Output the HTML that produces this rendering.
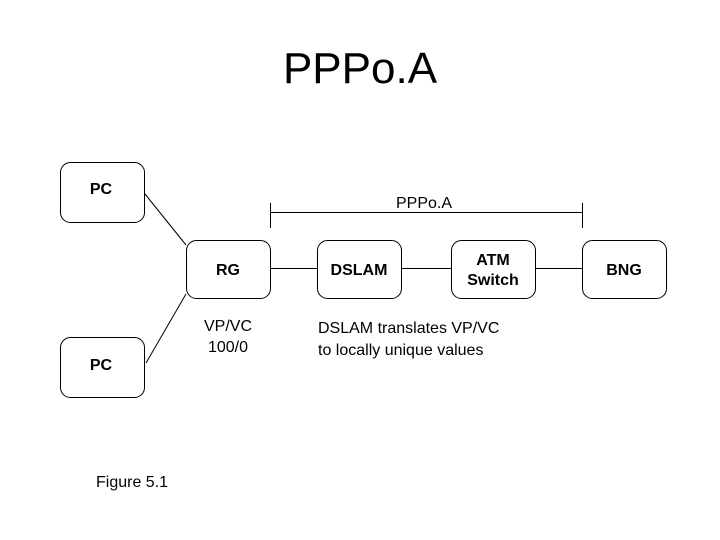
<!DOCTYPE html>
<html><head><style>
body{margin:0;background:#fff;}
svg{display:block;font-family:"Liberation Sans",Arial,sans-serif;}
</style></head><body>
<svg width="720" height="540" viewBox="0 0 720 540">
<text x="360" y="83" font-size="44" text-anchor="middle">PPPo.A</text>
<g fill="#fff" stroke="#000" stroke-width="1">
<rect x="60.5" y="162.5" width="84" height="60" rx="10"/>
<rect x="60.5" y="337.5" width="84" height="60" rx="10"/>
<rect x="186.5" y="240.5" width="84" height="58" rx="10"/>
<rect x="317.5" y="240.5" width="84" height="58" rx="10"/>
<rect x="451.5" y="240.5" width="84" height="58" rx="10"/>
<rect x="582.5" y="240.5" width="84" height="58" rx="10"/>
</g>
<g stroke="#000" stroke-width="1" fill="none">
<line x1="145" y1="194" x2="186" y2="245"/>
<line x1="146" y1="363" x2="186" y2="294"/>
<line x1="271" y1="268.5" x2="317" y2="268.5"/>
<line x1="402" y1="268.5" x2="451" y2="268.5"/>
<line x1="536" y1="268.5" x2="582" y2="268.5"/>
<line x1="270" y1="212.5" x2="583" y2="212.5"/>
<line x1="270.5" y1="203" x2="270.5" y2="228"/>
<line x1="582.5" y1="203" x2="582.5" y2="228"/>
</g>
<g font-size="16" font-weight="bold" text-anchor="middle">
<text x="101" y="194">PC</text>
<text x="101" y="370">PC</text>
<text x="228" y="275">RG</text>
<text x="359" y="275">DSLAM</text>
<text x="493" y="265">ATM</text>
<text x="493" y="285">Switch</text>
<text x="624" y="275">BNG</text>
</g>
<g font-size="16" text-anchor="middle">
<text x="424" y="208">PPPo.A</text>
<text x="228" y="331">VP/VC</text>
<text x="228" y="352">100/0</text>
</g>
<g font-size="16">
<text x="318" y="333">DSLAM translates VP/VC</text>
<text x="318" y="355">to locally unique values</text>
<text x="96" y="487">Figure 5.1</text>
</g>
</svg>
</body></html>
